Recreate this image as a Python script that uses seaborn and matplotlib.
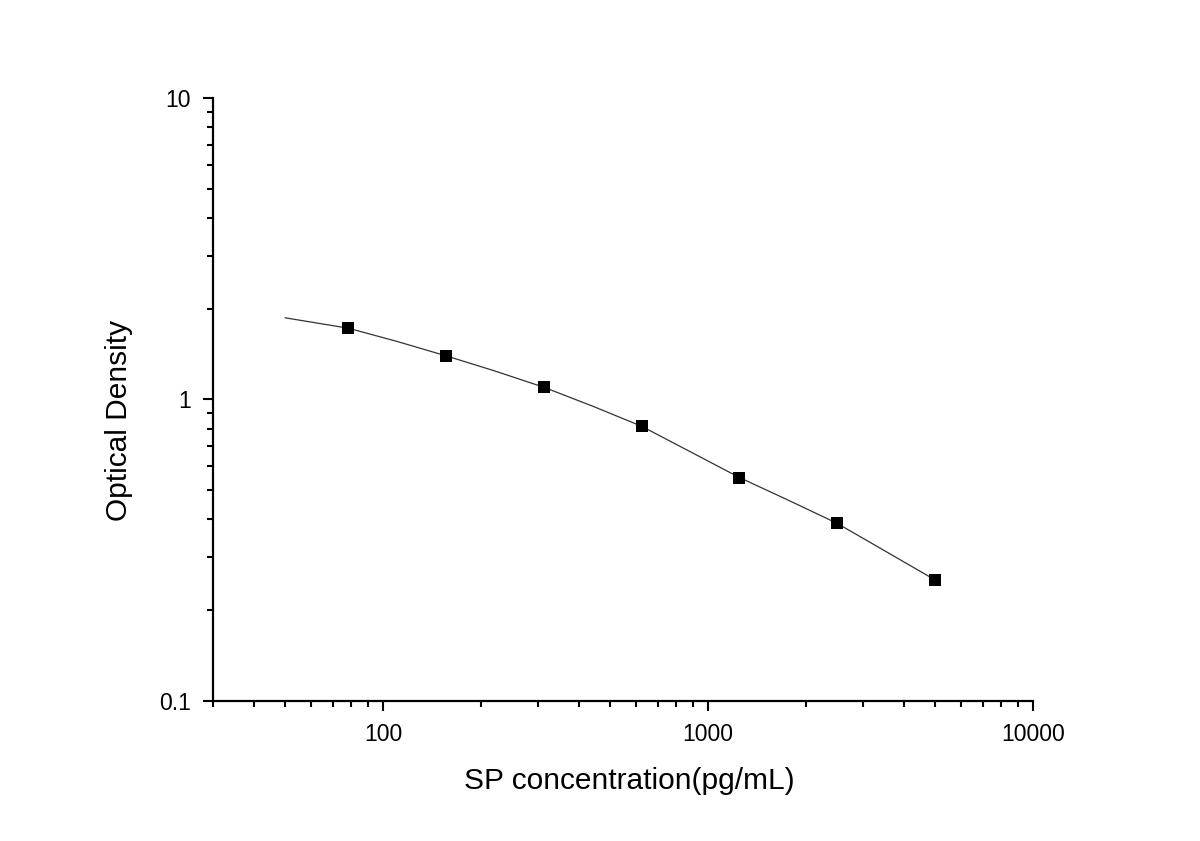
import matplotlib
matplotlib.use("Agg")
import matplotlib.pyplot as plt
import matplotlib.ticker as mticker
import seaborn as sns
import pandas as pd

# Standard points
conc = [78.125, 156.25, 312.5, 625, 1250, 2500, 5000]
od = [1.724, 1.396, 1.098, 0.815, 0.551, 0.388, 0.252]

# Fitted curve
curve_x = [50, 78.125, 110, 156.25, 220, 312.5, 440, 625, 880, 1250, 1770, 2500, 3540, 5000]
curve_y = [1.866, 1.724, 1.560, 1.396, 1.245, 1.098, 0.952, 0.815, 0.672, 0.551, 0.463, 0.388, 0.3125, 0.252]

xtick_vals = [100, 1000, 10000]
xtick_labels = ["100", "1000", "10000"]
ytick_vals = [0.1, 1, 10]
ytick_labels = ["0.1", "1", "10"]

sns.set_style("ticks")
plt.rcParams["font.family"] = ["Liberation Sans", "DejaVu Sans"]
plt.rcParams["text.color"] = "black"
plt.rcParams["axes.labelcolor"] = "black"
plt.rcParams["xtick.color"] = "black"
plt.rcParams["ytick.color"] = "black"

fig = plt.figure(figsize=(12, 8.41), dpi=100)
ax = fig.add_axes([0.1775, 0.1665, 0.6833, 0.717])

df_curve = pd.DataFrame({"x": curve_x, "y": curve_y})
df_pts = pd.DataFrame({"x": conc, "y": od})

sns.lineplot(data=df_curve, x="x", y="y", ax=ax, color="#333333", linewidth=0.9, sort=True)
sns.scatterplot(data=df_pts, x="x", y="y", ax=ax, marker="s", s=75, color="black",
                edgecolor="none", zorder=3)

ax.set_xscale("log")
ax.set_yscale("log")
ax.set_xlim(30, 10000)
ax.set_ylim(0.1, 10)

ax.xaxis.set_major_locator(mticker.FixedLocator(xtick_vals))
ax.xaxis.set_major_formatter(mticker.FixedFormatter(xtick_labels))
ax.yaxis.set_major_locator(mticker.FixedLocator(ytick_vals))
ax.yaxis.set_major_formatter(mticker.FixedFormatter(ytick_labels))
ax.xaxis.set_minor_locator(mticker.LogLocator(base=10, subs=range(2, 10), numticks=20))
ax.yaxis.set_minor_locator(mticker.LogLocator(base=10, subs=range(2, 10), numticks=20))
ax.xaxis.set_minor_formatter(mticker.NullFormatter())
ax.yaxis.set_minor_formatter(mticker.NullFormatter())

for s in ["top", "right"]:
    ax.spines[s].set_visible(False)
for s in ["left", "bottom"]:
    ax.spines[s].set_linewidth(1.6)
    ax.spines[s].set_color("black")

ax.tick_params(which="major", direction="out", length=7, width=1.5, labelsize=16.5,
               colors="black")
ax.tick_params(which="minor", direction="out", length=4, width=1.5, colors="black")
ax.tick_params(axis="x", which="major", pad=8.5)
ax.tick_params(axis="y", which="major", pad=9)

ax.set_xlabel("SP concentration(pg/mL)", fontsize=21.5, labelpad=15.5)
ax.set_ylabel("Optical Density", fontsize=21.5, labelpad=19)
ax.xaxis.label.set_x(0.508)
ax.yaxis.label.set_y(0.466)

fig.savefig("out.png", dpi=100, facecolor="white")
